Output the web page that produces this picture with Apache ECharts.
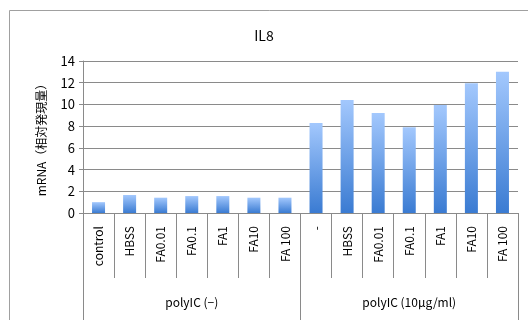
<!DOCTYPE html>
<html>
<head>
<meta charset="UTF-8">
<title>IL8</title>
<style>
  html, body { margin: 0; padding: 0; background: #fff; }
  #main { width: 528px; height: 320px; }
</style>
</head>
<body>
<div id="main"></div>
<script src="https://cdn.jsdelivr.net/npm/echarts@6/dist/echarts.min.js"></script>
<script>
// 14 bars, two treatment groups
var categories = ['control', 'HBSS', 'FA0.01', 'FA0.1', 'FA1', 'FA10', 'FA 100',
                  '-', 'HBSS', 'FA0.01', 'FA0.1', 'FA1', 'FA10', 'FA 100'];
var groups = ['polyIC (−)', 'polyIC (10μg/ml)'];
var il8Values = [1.0, 1.66, 1.41, 1.56, 1.56, 1.41, 1.41,
                 8.3, 10.4, 9.2, 7.9, 9.95, 11.95, 13.0];
var yTicks = { min: 0, max: 14, step: 2 };

var font = '"Noto Sans CJK JP", "Noto Sans", sans-serif';
var gray = '#8a8a8a';

var chart = echarts.init(document.getElementById('main'));
var option = {
  backgroundColor: '#fff',
  animation: false,
  title: {
    text: 'IL8',
    left: 'center',
    top: 24,
    textStyle: { fontFamily: font, fontSize: 14, fontWeight: 'normal', color: '#000' }
  },
  graphic: [{
    type: 'rect',
    shape: { x: 9.5, y: 10.5, width: 530, height: 320 },
    style: { fill: null, stroke: '#a0a0a0', lineWidth: 1 },
    silent: true
  }],
  grid: { left: 83, right: 10, top: 61, bottom: 107 },
  xAxis: [{
    type: 'category',
    data: categories,
    position: 'bottom',
    axisLine: { lineStyle: { color: gray } },
    axisTick: { show: true, interval: 0, length: 65, lineStyle: { color: gray } },
    axisLabel: {
      interval: 0, rotate: 90, margin: 13,
      fontFamily: font, fontSize: 12, color: '#000'
    }
  }, {
    type: 'category',
    data: groups,
    position: 'bottom',
    axisLine: { show: false },
    axisTick: { show: true, interval: 0, length: 108, lineStyle: { color: gray } },
    axisLabel: { interval: 0, margin: 83, fontFamily: font, fontSize: 12, color: '#000' }
  }],
  yAxis: {
    type: 'value',
    min: yTicks.min,
    max: yTicks.max,
    interval: yTicks.step,
    name: 'mRNA（相対発現量）',
    nameLocation: 'middle',
    nameRotate: 90,
    nameGap: 36,
    nameTextStyle: { fontFamily: font, fontSize: 12, color: '#000' },
    axisLine: { show: true, lineStyle: { color: gray } },
    axisTick: { show: true, length: 4, lineStyle: { color: gray } },
    axisLabel: { margin: 8, fontFamily: font, fontSize: 13, color: '#000' },
    splitLine: { lineStyle: { color: gray, width: 1 } }
  },
  series: [{
    type: 'bar',
    xAxisIndex: 0,
    data: il8Values,
    barWidth: 13,
    itemStyle: {
      color: new echarts.graphic.LinearGradient(0, 0, 0, 1, [
        { offset: 0, color: '#a3c8fd' },
        { offset: 1, color: '#3a7bd2' }
      ])
    }
  }]
};
chart.setOption(option);
</script>
</body>
</html>
